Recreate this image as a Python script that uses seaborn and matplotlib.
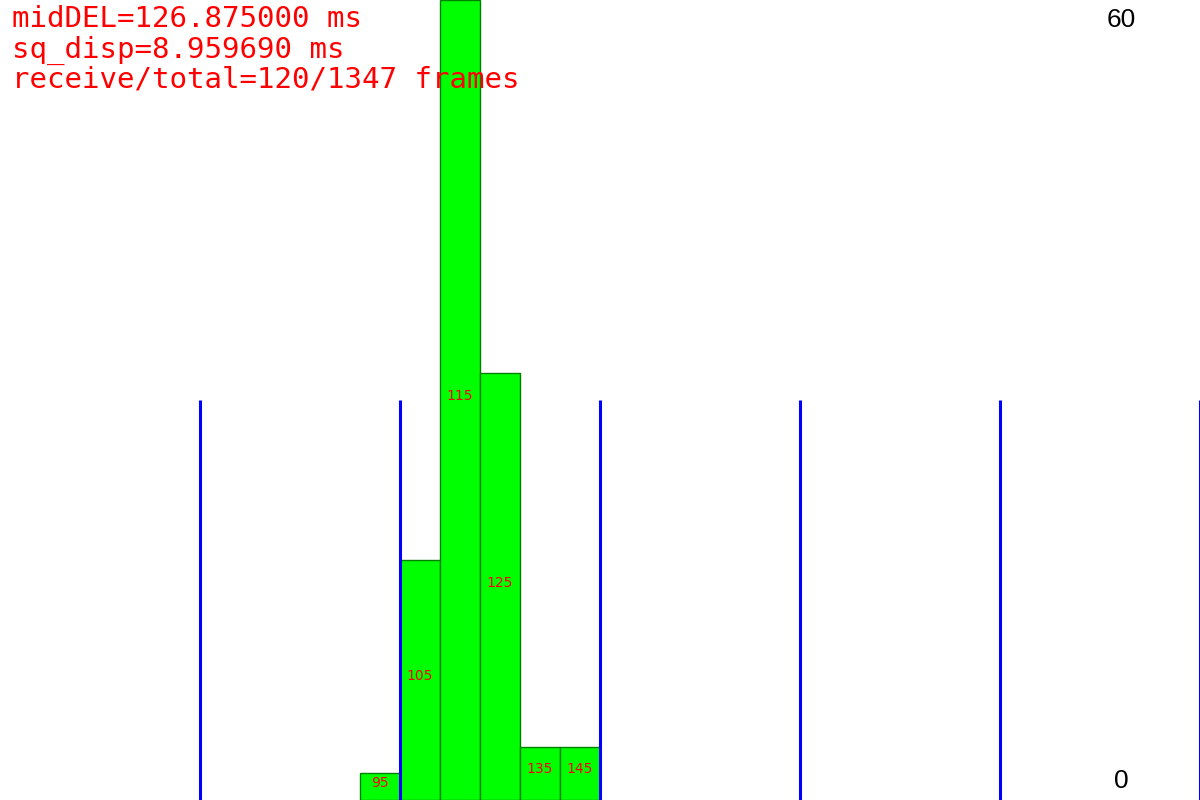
import matplotlib
matplotlib.use("Agg")
import matplotlib.pyplot as plt
import numpy as np
import seaborn as sns

# delay histogram, 10 ms bins
bin_centers = [95, 105, 115, 125, 135, 145]
bin_counts = [2, 18, 60, 32, 4, 4]
bin_edges = [90, 100, 110, 120, 130, 140, 150]
grid_x = [50, 100, 150, 200, 250, 300]
info_lines = [
    "midDEL=126.875000 ms",
    "sq_disp=8.959690 ms",
    "receive/total=120/1347 frames",
]
y_labels = ["60", "0"]

sns.set_style("white")

fig = plt.figure(figsize=(12, 8), dpi=100)
ax = fig.add_axes([0, 0, 1, 1])

sns.histplot(x=bin_centers, weights=bin_counts, bins=bin_edges, ax=ax,
             color="#00ff00", edgecolor="#008000", linewidth=1.0, alpha=1.0)

# blue markers every 50 ms, half height
ax.vlines(grid_x, 0, 30, color="#0000ff", linewidth=2.2, zorder=5)

# bin labels sit on the bar's half height
for c, n in zip(bin_centers, bin_counts):
    ax.text(c, n / 2, str(c), color="red", fontsize=10, ha="center",
            va="baseline", family="DejaVu Sans", zorder=6)

ax.set_xlim(0, 300)
ax.set_ylim(0, 60)
ax.set_axis_off()

for i, line in enumerate(info_lines):
    fig.text(12 / 1200, 1 - (27 + 30.5 * i) / 800, line, color="red",
             fontsize=21, family="DejaVu Sans Mono", va="baseline", ha="left",
             zorder=10)

fig.text(1121 / 1200, 1 - 20 / 800, y_labels[0], color="black", fontsize=19,
         family="Liberation Sans", ha="center", va="center")
fig.text(1121 / 1200, 1 - 781 / 800, y_labels[1], color="black", fontsize=19,
         family="Liberation Sans", ha="center", va="center")

fig.savefig("out.png", dpi=100)
